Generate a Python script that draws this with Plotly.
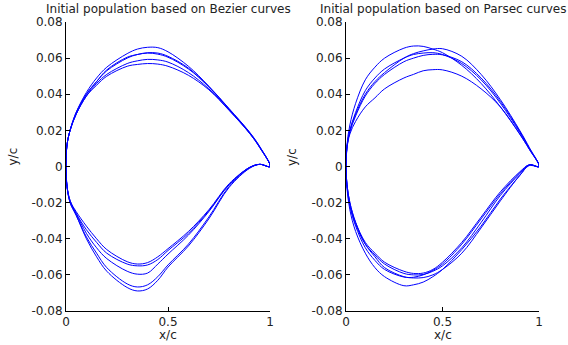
import plotly.graph_objects as go

# chordwise stations (x/c)
XS = [0, 0.005, 0.02, 0.05, 0.1, 0.15, 0.2, 0.3, 0.35, 0.4, 0.45, 0.5, 0.6, 0.7, 0.8, 0.9, 0.95, 1.0]

# Bezier population: upper and lower surfaces (y/c)
BEZ_UP = [
    [0, 0.012, 0.020, 0.030, 0.041, 0.049, 0.055, 0.0625, 0.065, 0.066, 0.0658, 0.0635, 0.0555, 0.0445, 0.032, 0.019, 0.011, 0],
    [0, 0.012, 0.020, 0.030, 0.040, 0.047, 0.053, 0.060, 0.062, 0.063, 0.0628, 0.061, 0.0545, 0.044, 0.0318, 0.0188, 0.0108, 0],
    [0, 0.012, 0.020, 0.029, 0.040, 0.047, 0.0535, 0.0605, 0.062, 0.0628, 0.0622, 0.0605, 0.054, 0.0442, 0.0316, 0.0186, 0.0106, 0],
    [0, 0.012, 0.020, 0.029, 0.039, 0.046, 0.051, 0.057, 0.0585, 0.0593, 0.059, 0.0578, 0.052, 0.043, 0.0312, 0.0184, 0.0105, 0],
    [0, 0.012, 0.020, 0.029, 0.039, 0.045, 0.050, 0.0555, 0.0565, 0.057, 0.0567, 0.0555, 0.0505, 0.0425, 0.031, 0.0183, 0.0104, 0],
]
BEZ_LO = [
    [0, -0.011, -0.019, -0.025, -0.033, -0.040, -0.046, -0.0527, -0.054, -0.0532, -0.050, -0.0455, -0.036, -0.024, -0.0095, -0.0005, 0.0012, 0],
    [0, -0.011, -0.019, -0.026, -0.035, -0.042, -0.048, -0.054, -0.055, -0.0545, -0.0515, -0.0465, -0.037, -0.0245, -0.010, -0.0005, 0.0012, 0],
    [0, -0.011, -0.019, -0.026, -0.037, -0.045, -0.051, -0.058, -0.0596, -0.059, -0.054, -0.0485, -0.038, -0.025, -0.010, -0.0005, 0.0012, 0],
    [0, -0.011, -0.020, -0.027, -0.039, -0.048, -0.056, -0.065, -0.0667, -0.0655, -0.061, -0.0545, -0.043, -0.028, -0.011, -0.0008, 0.0012, 0],
    [0, -0.011, -0.020, -0.027, -0.040, -0.050, -0.058, -0.067, -0.0689, -0.0678, -0.063, -0.0557, -0.044, -0.029, -0.0115, -0.001, 0.0012, 0],
]

# Parsec population: upper and lower surfaces (y/c)
PAR_UP = [
    [0, 0.012, 0.023, 0.035, 0.048, 0.055, 0.060, 0.0655, 0.0667, 0.0665, 0.065, 0.063, 0.056, 0.046, 0.033, 0.018, 0.0095, 0],
    [0, 0.011, 0.020, 0.029, 0.040, 0.047, 0.052, 0.060, 0.0625, 0.064, 0.065, 0.0652, 0.061, 0.051, 0.037, 0.020, 0.0105, 0],
    [0, 0.011, 0.020, 0.030, 0.042, 0.049, 0.054, 0.060, 0.062, 0.0628, 0.063, 0.062, 0.057, 0.048, 0.035, 0.019, 0.010, 0],
    [0, 0.011, 0.019, 0.028, 0.039, 0.046, 0.051, 0.058, 0.060, 0.0615, 0.0621, 0.0618, 0.058, 0.049, 0.036, 0.0195, 0.010, 0],
    [0, 0.010, 0.018, 0.025, 0.033, 0.038, 0.043, 0.049, 0.051, 0.053, 0.0536, 0.0535, 0.050, 0.043, 0.033, 0.018, 0.0095, 0],
]
PAR_LO = [
    [0, -0.012, -0.024, -0.036, -0.048, -0.056, -0.061, -0.066, -0.0655, -0.064, -0.061, -0.057, -0.046, -0.033, -0.018, -0.005, 0.0008, 0],
    [0, -0.010, -0.020, -0.031, -0.042, -0.048, -0.053, -0.058, -0.0592, -0.059, -0.057, -0.053, -0.042, -0.028, -0.014, -0.003, 0.0010, 0],
    [0, -0.010, -0.021, -0.032, -0.043, -0.049, -0.054, -0.0592, -0.060, -0.0598, -0.058, -0.055, -0.045, -0.031, -0.016, -0.004, 0.0008, 0],
    [0, -0.011, -0.022, -0.033, -0.045, -0.052, -0.057, -0.0612, -0.0613, -0.060, -0.0575, -0.054, -0.043, -0.029, -0.015, -0.0035, 0.0010, 0],
    [0, -0.010, -0.020, -0.031, -0.043, -0.050, -0.056, -0.061, -0.0617, -0.0615, -0.060, -0.057, -0.048, -0.034, -0.019, -0.005, 0.0005, 0],
]

TITLES = ["Initial population based on Bezier curves", "Initial population based on Parsec curves"]
X_TICKS = [0, 0.5, 1]
X_TICKTEXT = ["0", "0.5", "1"]
Y_TICKS = [0.08, 0.06, 0.04, 0.02, 0, -0.02, -0.04, -0.06, -0.08]
Y_TICKTEXT = ["0.08", "0.06", "0.04", "0.02", "0", "-0.02", "-0.04", "-0.06", "-0.08"]

BLUE = "#0000ff"
FONT = "DejaVu Sans"
TXT = "#222222"

fig = go.Figure()

def add_population(ups, los, xa, ya):
    for up, lo in zip(ups, los):
        xs = list(reversed(XS)) + XS[1:]
        ys = list(reversed(up)) + lo[1:]
        fig.add_trace(go.Scatter(
            x=xs, y=ys, mode="lines",
            line=dict(color=BLUE, width=1, shape="spline", smoothing=1.0),
            xaxis=xa, yaxis=ya, showlegend=False, hoverinfo="skip"))

add_population(BEZ_UP, BEZ_LO, "x", "y")
add_population(PAR_UP, PAR_LO, "x2", "y2")

W, H = 568, 345
left_dom = [66 / W, 270 / W]
right_dom = [346 / W, 539 / W]
y_dom = [(H - 311) / H, (H - 22) / H]

axis_common = dict(showline=True, linecolor="black", linewidth=1, mirror=False,
                   showgrid=False, zeroline=False, ticks="inside", ticklen=4,
                   tickcolor="black", automargin=False,
                   tickfont=dict(family=FONT, size=12, color=TXT))

fig.update_layout(
    width=W, height=H, margin=dict(l=0, r=0, t=0, b=0, autoexpand=False),
    paper_bgcolor="white", plot_bgcolor="white",
    xaxis=dict(domain=left_dom, range=[0, 1], tickvals=X_TICKS, ticktext=X_TICKTEXT, anchor="y", **axis_common),
    yaxis=dict(domain=y_dom, range=[-0.08, 0.08], tickvals=Y_TICKS, ticktext=Y_TICKTEXT, anchor="x", **axis_common),
    xaxis2=dict(domain=right_dom, range=[0, 1], tickvals=X_TICKS, ticktext=X_TICKTEXT, anchor="y2", **axis_common),
    yaxis2=dict(domain=y_dom, range=[-0.08, 0.08], tickvals=Y_TICKS, ticktext=Y_TICKTEXT, anchor="x2", **axis_common),
)

anns = []
for dom, title in zip([left_dom, right_dom], TITLES):
    cx = (dom[0] + dom[1]) / 2
    anns.append(dict(text=title, x=cx, y=1 - 9 / H, xref="paper", yref="paper",
                     xanchor="center", yanchor="middle", showarrow=False,
                     font=dict(family=FONT, size=12, color=TXT)))
    anns.append(dict(text="x/c", x=cx, y=1 - 335 / H, xref="paper", yref="paper",
                     xanchor="center", yanchor="middle", showarrow=False,
                     font=dict(family=FONT, size=12, color=TXT)))
for px in [12.5, 292]:
    anns.append(dict(text="y/c", x=px / W, y=1 - 157 / H, xref="paper", yref="paper",
                     xanchor="center", yanchor="middle", showarrow=False, textangle=-90,
                     font=dict(family=FONT, size=12, color=TXT)))
fig.update_layout(annotations=anns)

fig.write_html("out.html")
